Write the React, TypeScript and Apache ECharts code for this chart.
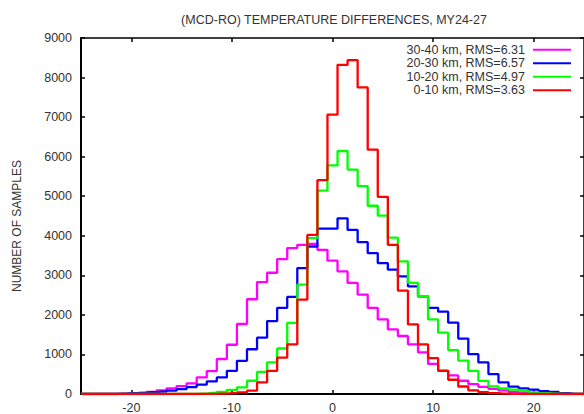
import React, { useEffect, useRef } from "react";
import * as echarts from "echarts";

const TITLE = "(MCD-RO) TEMPERATURE DIFFERENCES, MY24-27";
const Y_NAME = "NUMBER OF SAMPLES";
const X_TICKS = [-20, -10, 0, 10, 20];
const SERIES_NAMES = [
  "30-40 km, RMS=6.31",
  "20-30 km, RMS=6.57",
  "10-20 km, RMS=4.97",
  "0-10 km, RMS=3.63",
];
const SERIES_COLORS = ["#ff00ff", "#0000ff", "#00ff00", "#ff0000"];

// bin centres (temperature difference, K)
const BINS = [
  -25, -24, -23, -22, -21, -20, -19, -18, -17, -16, -15, -14, -13, -12, -11, -10, -9, -8, -7, -6, -5, -4, -3, -2, -1,
  0, 1, 2, 3, 4, 5, 6, 7, 8, 9, 10, 11, 12, 13, 14, 15, 16, 17, 18, 19, 20, 21, 22, 23, 24, 25,
];

// 30-40 km
const KM30_40 = [
  0, 0, 0, 0, 5, 15, 30, 55, 90, 140, 200, 270, 420, 580, 885, 1245, 1770, 2395, 2830, 3065, 3411, 3688, 3771, 3796, 3645,
  3370, 3100, 2808, 2514, 2179, 1886, 1634, 1466, 1257, 1050, 760, 590, 470, 335, 250, 180, 130, 90, 55, 30, 15, 5, 0, 0, 0, 0,
];
// 20-30 km
const KM20_30 = [
  0, 0, 0, 0, 10, 20, 30, 45, 60, 85, 125, 175, 235, 318, 419, 586, 838, 1131, 1425, 1843, 2179, 2455, 3184, 3729, 4180,
  4180, 4442, 4148, 3839, 3562, 3311, 3143, 2974, 2723, 2471, 2179, 2080, 1802, 1400, 1006, 797, 503, 294, 184, 143, 109, 75, 50, 20, 5, 0,
];
// 10-20 km
const KM10_20 = [
  0, 0, 0, 0, 0, 0, 0, 0, 0, 0, 0, 0, 10, 25, 55, 105, 170, 335, 560, 800, 1150, 1800, 2765, 3940, 5140,
  5782, 6143, 5673, 5254, 4759, 4508, 3955, 3351, 2808, 2471, 1886, 1551, 1110, 846, 586, 334, 193, 143, 109, 75, 40, 20, 8, 0, 0, 0,
];
// 0-10 km
const KM0_10 = [
  0, 0, 0, 0, 0, 0, 0, 0, 0, 0, 0, 0, 0, 5, 10, 20, 42, 84, 292, 586, 922, 1257, 2388, 4022, 5405,
  7064, 8321, 8440, 7751, 6177, 4985, 3771, 2614, 1760, 1257, 905, 586, 360, 190, 90, 45, 20, 10, 5, 0, 0, 0, 0, 0, 0, 0,
];

const SERIES_VALUES = [KM30_40, KM20_30, KM10_20, KM0_10];

const FONT = "'Liberation Sans', Arial, Helvetica, sans-serif";
const TEXT_COLOR = "#333";

export default function App() {
  const ref = useRef<HTMLDivElement>(null);

  useEffect(() => {
    if (!ref.current) return;
    const chart = echarts.init(ref.current, undefined, { renderer: "svg" });

    const axisLine = { show: true, onZero: false, lineStyle: { color: "#000", width: 2 } };
    const thinLine = { show: true, onZero: false, lineStyle: { color: "#000", width: 1.5 } };
    const tickStyle = { color: "#000", width: 1.5 };

    chart.setOption({
      animation: false,
      backgroundColor: "#fff",
      textStyle: { fontFamily: FONT },
      title: {
        text: TITLE,
        left: 334,
        textAlign: "center",
        top: 13,
        padding: 0,
        textStyle: { fontFamily: FONT, fontSize: 12.5, fontWeight: "normal", color: TEXT_COLOR },
      },
      legend: {
        data: SERIES_NAMES,
        orient: "vertical",
        align: "right",
        right: 13,
        top: 43,
        padding: 0,
        itemGap: 0,
        itemWidth: 38,
        itemHeight: 2,
        icon: "rect",
        selectedMode: false,
        textStyle: {
          fontFamily: FONT,
          fontSize: 12.5,
          color: TEXT_COLOR,
          lineHeight: 13.5,
          padding: [0, 3, 0, 0],
        },
      },
      grid: { left: 81, right: -2.5, top: 38, bottom: 19, containLabel: false },
      xAxis: [
        {
          type: "value",
          min: -25,
          max: 25,
          position: "bottom",
          axisLine,
          axisTick: { show: true, inside: true, length: 4, lineStyle: tickStyle, customValues: X_TICKS },
          axisLabel: {
            show: true,
            customValues: X_TICKS,
            margin: 7,
            fontFamily: FONT,
            fontSize: 12.5,
            color: TEXT_COLOR,
            formatter: (v: number) => String(v),
          },
          splitLine: { show: false },
        },
        {
          type: "value",
          min: -25,
          max: 25,
          position: "top",
          axisLine: thinLine,
          axisTick: { show: true, inside: true, length: 4, lineStyle: tickStyle, customValues: X_TICKS },
          axisLabel: { show: false },
          splitLine: { show: false },
        },
      ],
      yAxis: [
        {
          type: "value",
          min: 0,
          max: 9000,
          interval: 1000,
          position: "left",
          name: Y_NAME,
          nameLocation: "middle",
          nameGap: 58,
          nameRotate: 90,
          nameTextStyle: { fontFamily: FONT, fontSize: 12, color: TEXT_COLOR, padding: [0, 20, 0, 0] },
          axisLine,
          axisTick: { show: true, inside: true, length: 4, lineStyle: tickStyle },
          axisLabel: {
            show: true,
            margin: 9,
            fontFamily: FONT,
            fontSize: 12.5,
            color: TEXT_COLOR,
            formatter: (v: number) => String(v),
          },
          splitLine: { show: false },
        },
        {
          type: "value",
          min: 0,
          max: 9000,
          interval: 1000,
          position: "right",
          axisLine: thinLine,
          axisTick: { show: true, inside: true, length: 4, lineStyle: tickStyle },
          axisLabel: { show: false },
          splitLine: { show: false },
        },
      ],
      series: SERIES_NAMES.map((name, i) => ({
        name,
        type: "line",
        step: "middle",
        showSymbol: false,
        symbol: "none",
        xAxisIndex: 0,
        yAxisIndex: 0,
        color: SERIES_COLORS[i],
        lineStyle: { color: SERIES_COLORS[i], width: 2.3 },
        data: BINS.map((b, k) => [b, SERIES_VALUES[i][k]]),
        z: 2 + i,
      })),
    });

    return () => chart.dispose();
  }, []);

  return (
    <div
      ref={ref}
      style={{ position: "fixed", left: 0, top: 0, width: 584, height: 414, background: "#fff" }}
    />
  );
}
